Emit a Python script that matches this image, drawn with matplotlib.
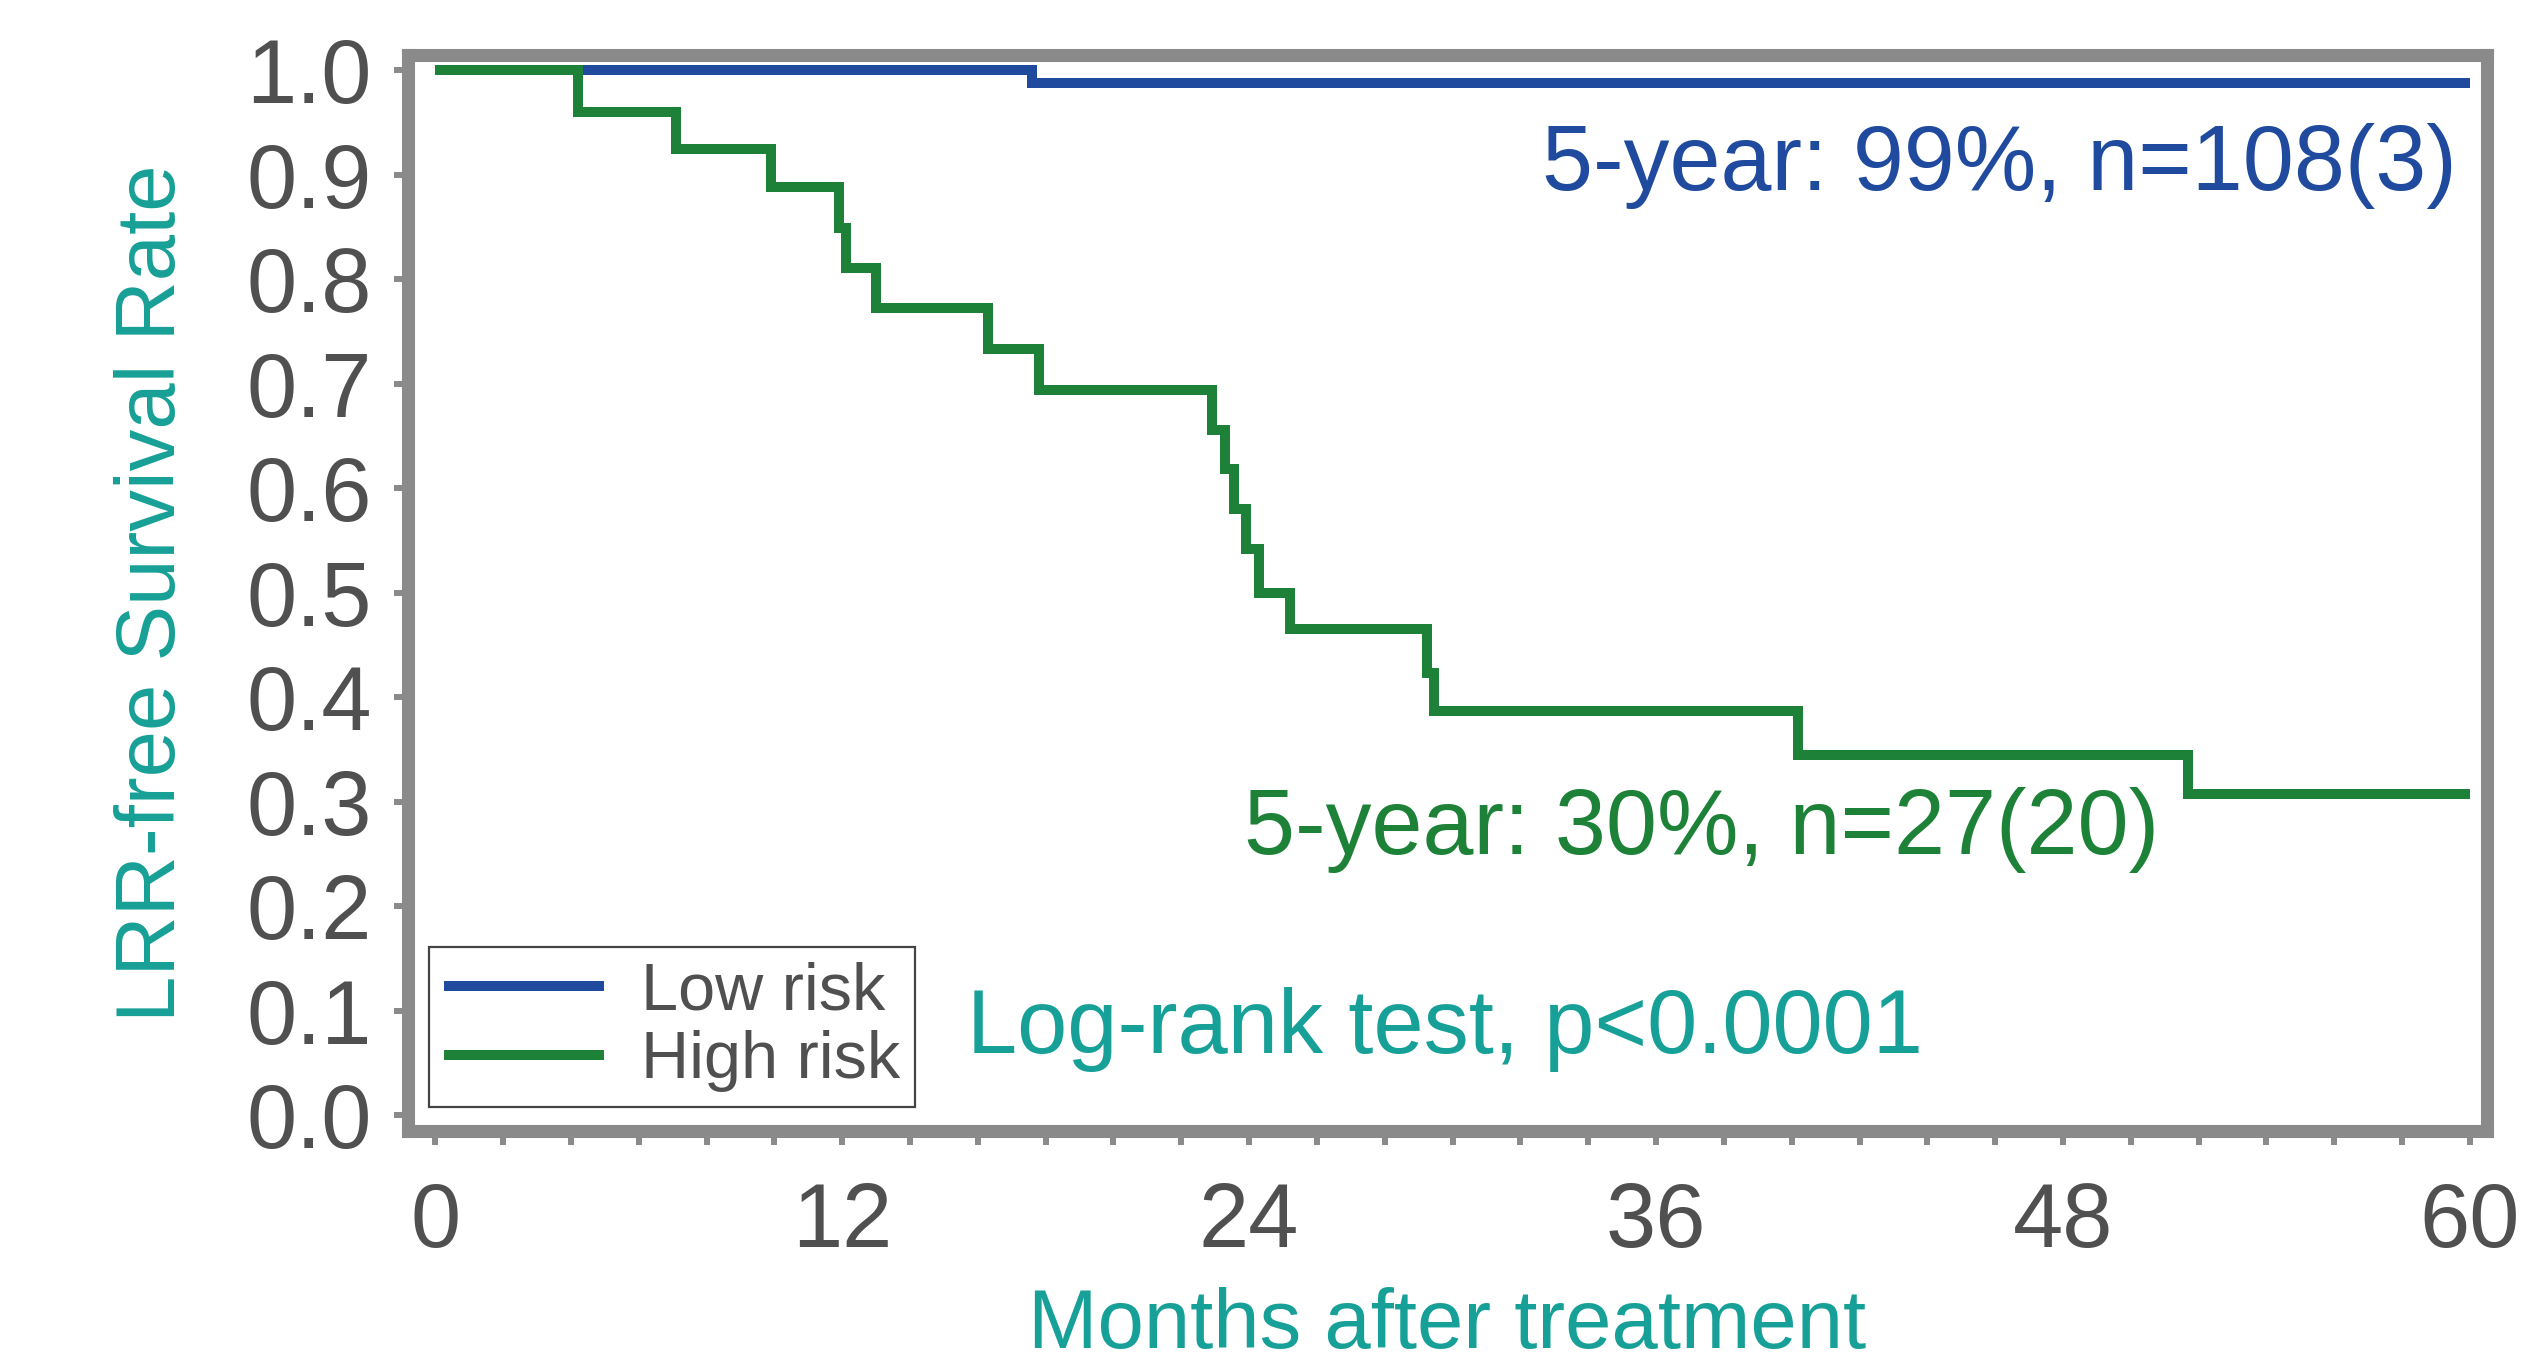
import matplotlib
matplotlib.use("Agg")
import matplotlib.pyplot as plt

plt.rcParams['font.family'] = ['Liberation Sans', 'DejaVu Sans']

# Kaplan-Meier step values
low_t = [0, 17.6, 60]
low_s = [1.0, 0.988, 0.988]

high_t = [0, 4.2, 7.1, 9.9, 11.9, 12.1, 13.0, 16.3, 17.8, 22.9, 23.3, 23.55,
          23.9, 24.3, 25.2, 29.25, 29.45, 40.2, 51.7, 60]
high_s = [1.0, 0.960, 0.924, 0.888, 0.849, 0.811, 0.772, 0.733, 0.694, 0.656,
          0.618, 0.580, 0.542, 0.500, 0.465, 0.423, 0.387, 0.345, 0.307, 0.307]

labels = ['Low risk', 'High risk']
x_major = [0, 12, 24, 36, 48, 60]
x_minor = list(range(0, 61, 2))
y_ticks = [i / 10 for i in range(11)]

blue = '#1f4a9e'
green = '#1d8238'
teal = '#17a097'
grey = '#8a8a8a'
dark = '#505050'

fig = plt.figure(figsize=(25.41, 13.62), dpi=100)
ax = fig.add_axes([0.1606, 0.1696, 0.8181, 0.79])

lw = 7.2
ax.step(low_t, low_s, where='post', color=blue, lw=lw, label=labels[0],
        solid_joinstyle='miter', solid_capstyle='butt')
ax.step(high_t, high_s, where='post', color=green, lw=lw, label=labels[1],
        solid_joinstyle='miter', solid_capstyle='butt')

ax.set_xlim(-0.8, 60.5)
ax.set_ylim(-0.0153, 1.0144)

ax.set_xticks(x_major)
ax.set_xticks(x_minor, minor=True)
ax.set_yticks(y_ticks)
ax.set_yticklabels(['%.1f' % v for v in y_ticks])

for s in ax.spines.values():
    s.set_color(grey)
    s.set_linewidth(9.4)

ax.tick_params(axis='both', which='both', direction='out', length=10, width=4.3,
               color=grey, labelcolor=dark, labelsize=65)
ax.tick_params(axis='x', which='both', pad=26)
ax.tick_params(axis='y', pad=16)

ax.set_xlabel('Months after treatment', color=teal, fontsize=60)
ax.set_ylabel('LRR-free Survival Rate', color=teal, fontsize=60)
ax.xaxis.set_label_coords(0.5, -0.145)
ax.yaxis.set_label_coords(-0.104, 0.5)

ax.text(59.6, 0.885, '5-year: 99%, n=108(3)', color=blue, fontsize=66,
        ha='right', va='baseline')
ax.text(50.84, 0.25, '5-year: 30%, n=27(20)', color=green, fontsize=66,
        ha='right', va='baseline')
ax.text(15.68, 0.059, 'Log-rank test, p<0.0001', color=teal, fontsize=65,
        ha='left', va='baseline')

leg = ax.legend(loc='lower left', bbox_to_anchor=(0.1688, 0.1872),
                bbox_transform=fig.transFigure, borderaxespad=0,
                fontsize=48, fancybox=False, framealpha=1, edgecolor='#444444',
                handlelength=2.4, handletextpad=0.56, labelspacing=0.1,
                borderpad=0.22)
leg.get_frame().set_linewidth(1.6)
for t in leg.get_texts():
    t.set_color(dark)

fig.savefig('out.png', dpi=100)
